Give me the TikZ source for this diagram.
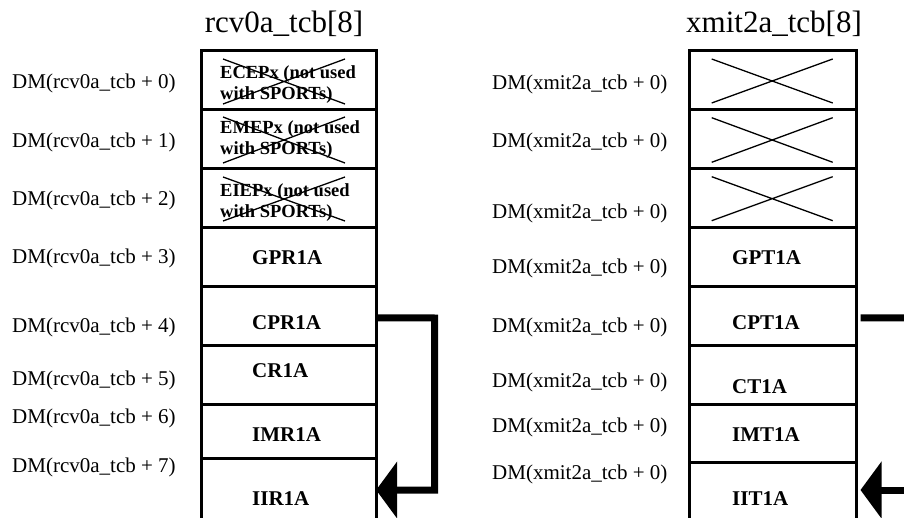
\documentclass[tikz,border=0pt]{standalone}
\usepackage{fontspec}
\setmainfont{Liberation Serif}
\usetikzlibrary{arrows.meta}
\begin{document}
\begin{tikzpicture}[x=1pt,y=-1pt,
  frame/.style={line width=3pt, line join=miter},
  divider/.style={line width=3pt},
  crossline/.style={line width=1.3pt},
  rowbox/.style={inner sep=0pt, outer sep=0pt, minimum width=175pt},
  addr/.style={anchor=base west, inner sep=0pt, font=\fontsize{21}{25}\selectfont},
  reg/.style={anchor=base west, inner sep=0pt, font=\fontsize{21}{25}\selectfont\bfseries},
  dead/.style={anchor=base west, inner sep=0pt, font=\fontsize{18.5}{21}\selectfont\bfseries},
  heading/.style={anchor=base, inner sep=0pt, font=\fontsize{31}{36}\selectfont},
  link/.style={line width=7pt, line join=miter, line cap=butt},
  bighead/.style={-{Triangle[length=21pt,width=56pt]}}
]
\useasboundingbox (0,0) rectangle (904,518);

% ---------- left column: rcv0a_tcb ----------
\node[heading] (tL) at (284,33) {rcv0a\_tcb[8]};
\draw[frame] (201,530) -- (201,50.7) -- (376.3,50.7) -- (376.3,530);
\foreach \y in {110,169,227.7,286.7,345,404.3,458.3}
  \draw[divider] (201,\y) -- (376.3,\y);

\node[rowbox, minimum height=59.3pt] (L0) at (288.65,80.35) {};
\node[rowbox, minimum height=59pt]   (L1) at (288.65,139.5) {};
\node[rowbox, minimum height=58.7pt] (L2) at (288.65,198.35) {};
\node[rowbox, minimum height=59pt]   (L3) at (288.65,257.2) {};
\node[rowbox, minimum height=58.3pt] (L4) at (288.65,315.85) {};
\node[rowbox, minimum height=59.3pt] (L5) at (288.65,374.65) {};
\node[rowbox, minimum height=54pt]   (L6) at (288.65,431.3) {};
\node[rowbox, minimum height=63.4pt] (L7) at (288.65,490) {};

\draw[crossline] (223,59) -- (345,104) (223,104) -- (345,59);
\draw[crossline] (223,117) -- (345,163) (223,163) -- (345,117);
\draw[crossline] (223,177) -- (345,221) (223,221) -- (345,177);

\node[dead] (d0) at (220,78.3) {\begin{tabular}[t]{@{}l@{}}ECEPx (not used\\with SPORTs)\end{tabular}};
\node[dead] (d1) at (220,134) {\begin{tabular}[t]{@{}l@{}}EMEPx (not used\\with SPORTs)\end{tabular}};
\node[dead] (d2) at (220,196.7) {\begin{tabular}[t]{@{}l@{}}EIEPx (not used\\with SPORTs)\end{tabular}};
\node[reg] (r3) at (252,265) {GPR1A};
\node[reg] (r4) at (252,329) {CPR1A};
\node[reg] (r5) at (252,377) {CR1A};
\node[reg] (r6) at (252,441) {IMR1A};
\node[reg] (r7) at (252,505) {IIR1A};

\node[addr] (a0) at (12,89)    {DM(rcv0a\_tcb + 0)};
\node[addr] (a1) at (12,147.3) {DM(rcv0a\_tcb + 1)};
\node[addr] (a2) at (12,205.7) {DM(rcv0a\_tcb + 2)};
\node[addr] (a3) at (12,264)   {DM(rcv0a\_tcb + 3)};
\node[addr] (a4) at (12,332.3) {DM(rcv0a\_tcb + 4)};
\node[addr] (a5) at (12,385.7) {DM(rcv0a\_tcb + 5)};
\node[addr] (a6) at (12,423.3) {DM(rcv0a\_tcb + 6)};
\node[addr] (a7) at (12,472.3) {DM(rcv0a\_tcb + 7)};

\coordinate (bendL) at (434.5,318);
\draw[link, bighead] ([yshift=-2pt]L4.east) -- (bendL) |- (L7.east);

% ---------- right column: xmit2a_tcb ----------
\node[heading] (tR) at (774,33) {xmit2a\_tcb[8]};
\draw[frame] (689.3,530) -- (689.3,50.7) -- (856.7,50.7) -- (856.7,530);
\foreach \y in {110,169,228,286.7,345,404.3,462.7}
  \draw[divider] (689.3,\y) -- (856.7,\y);

\node[rowbox, minimum height=58pt]   (R4) at (773,315.85) {};
\node[rowbox, minimum height=55pt]   (R7) at (773,490) {};

\draw[crossline] (711.7,59) -- (832.7,103) (711.7,103) -- (832.7,59);
\draw[crossline] (711.7,117.7) -- (832.7,162.3) (711.7,162.3) -- (832.7,117.7);
\draw[crossline] (711.7,176.7) -- (832.7,220.7) (711.7,220.7) -- (832.7,176.7);

\node[reg] (s3) at (732,265) {GPT1A};
\node[reg] (s4) at (732,329) {CPT1A};
\node[reg] (s5) at (732,393) {CT1A};
\node[reg] (s6) at (732,441) {IMT1A};
\node[reg] (s7) at (732,505) {IIT1A};

\node[addr] (b0) at (492,90)    {DM(xmit2a\_tcb + 0)};
\node[addr] (b1) at (492,147.3) {DM(xmit2a\_tcb + 0)};
\node[addr] (b2) at (492,219)   {DM(xmit2a\_tcb + 0)};
\node[addr] (b3) at (492,274)   {DM(xmit2a\_tcb + 0)};
\node[addr] (b4) at (492,332.3) {DM(xmit2a\_tcb + 0)};
\node[addr] (b5) at (492,387.3) {DM(xmit2a\_tcb + 0)};
\node[addr] (b6) at (492,432.3) {DM(xmit2a\_tcb + 0)};
\node[addr] (b7) at (492,479)   {DM(xmit2a\_tcb + 0)};

\coordinate (outR) at (915,318);
\coordinate (inR) at (915,490);
\draw[link] ([yshift=-2pt]R4.east) -- (outR);
\draw[link, bighead] (inR) -- (R7.east);
\end{tikzpicture}
\end{document}
